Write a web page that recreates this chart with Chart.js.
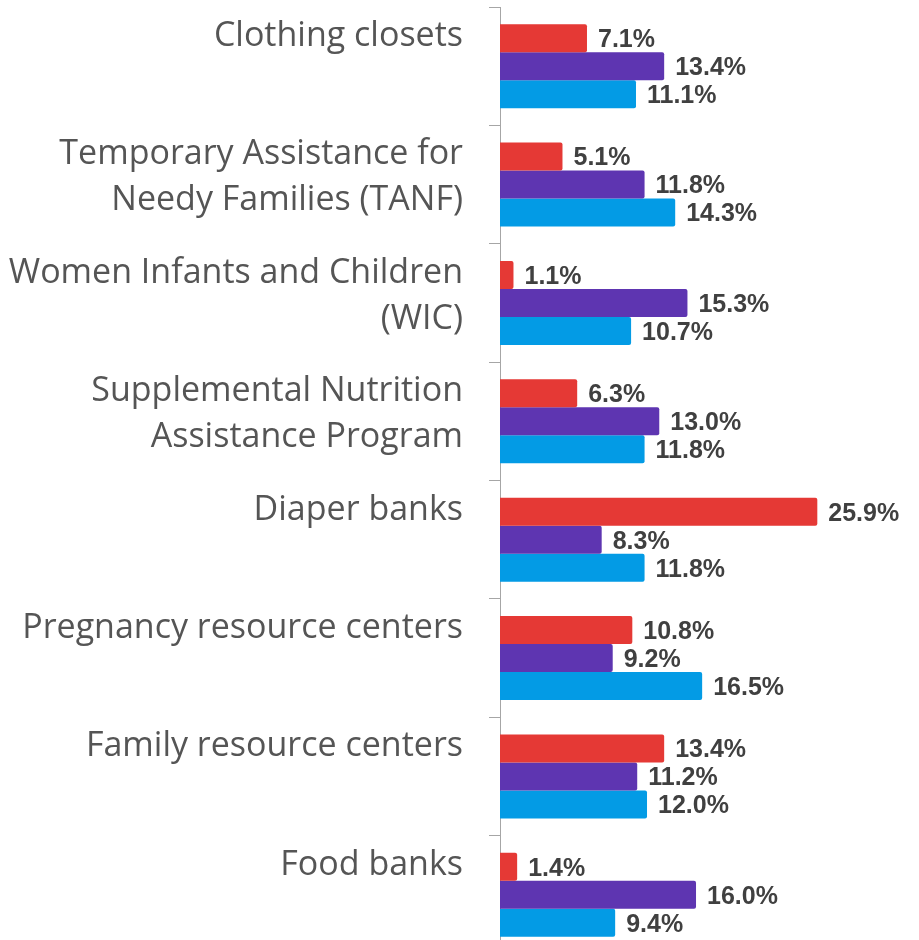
<!DOCTYPE html>
<html>
<head>
<meta charset="utf-8">
<script src="https://cdn.jsdelivr.net/npm/chart.js@4"></script>
<style>
  html, body { margin: 0; padding: 0; background: #fff; overflow: hidden; }
  canvas { display: block; }
</style>
</head>
<body>
<canvas id="grafica" width="919" height="955"></canvas>
<script>
const categories = [
    ['Clothing closets'],
    ['Temporary Assistance for', 'Needy Families (TANF)'],
    ['Women Infants and Children', '(WIC)'],
    ['Supplemental Nutrition', 'Assistance Program'],
    ['Diaper banks'],
    ['Pregnancy resource centers'],
    ['Family resource centers'],
    ['Food banks']
];

const redValues = [7.1, 5.1, 1.1, 6.3, 25.9, 10.8, 13.4, 1.4];
const purpleValues = [13.4, 11.8, 15.3, 13.0, 8.3, 9.2, 11.2, 16.0];
const blueValues = [11.1, 14.3, 10.7, 11.8, 11.8, 16.5, 12.0, 9.4];

// category labels, drawn top-aligned in each band
const categoryLabels = {
    id: 'categoryLabels',
    afterDraw(chart) {
        const y = chart.scales.y;
        const c = chart.ctx;
        const band = y.getPixelForValue(1) - y.getPixelForValue(0);
        c.save();
        c.font = '34px "Open Sans"';
        c.fillStyle = '#555555';
        c.textAlign = 'right';
        c.textBaseline = 'alphabetic';
        categories.forEach((lines, i) => {
            const top = y.getPixelForValue(i) - band / 2;
            lines.forEach((line, k) => {
                c.fillText(line, 463, top + 39 + k * 46);
            });
        });
        c.restore();
    }
};

// value labels at bar ends
const valueLabels = {
    id: 'valueLabels',
    afterDatasetsDraw(chart) {
        const c = chart.ctx;
        c.save();
        c.font = 'bold 25px "Liberation Sans", Arial, sans-serif';
        c.fillStyle = '#404040';
        c.textAlign = 'left';
        c.textBaseline = 'middle';
        chart.data.datasets.forEach((ds, d) => {
            chart.getDatasetMeta(d).data.forEach((bar, i) => {
                c.fillText(ds.data[i].toFixed(1) + '%', bar.x + 11, bar.y + 2);
            });
        });
        c.restore();
    }
};

new Chart(document.getElementById('grafica'), {
    type: 'bar',
    data: {
        labels: categories,
        datasets: [
            { label: 'Series 1', data: redValues, backgroundColor: '#E53935' },
            { label: 'Series 2', data: purpleValues, backgroundColor: '#5E35B1' },
            { label: 'Series 3', data: blueValues, backgroundColor: '#039BE5' }
        ]
    },
    options: {
        indexAxis: 'y',
        responsive: false,
        animation: false,
        layout: { padding: { top: 7, right: 0, bottom: 1, left: 0 } },
        datasets: {
            bar: {
                categoryPercentage: 0.71,
                barPercentage: 1.0,
                borderRadius: 2,
                borderSkipped: 'start'
            }
        },
        plugins: {
            legend: { display: false },
            tooltip: { enabled: false }
        },
        scales: {
            x: {
                display: false,
                min: 0,
                max: 34.2
            },
            y: {
                offset: true,
                afterFit(scale) { scale.width = 500; },
                ticks: { display: false },
                grid: {
                    offset: true,
                    drawOnChartArea: false,
                    drawTicks: true,
                    tickLength: 11,
                    color: '#a6a6a6',
                    lineWidth: 1
                },
                border: { display: true, color: '#a6a6a6', width: 1 }
            }
        }
    },
    plugins: [categoryLabels, valueLabels]
});
</script>
</body>
</html>
